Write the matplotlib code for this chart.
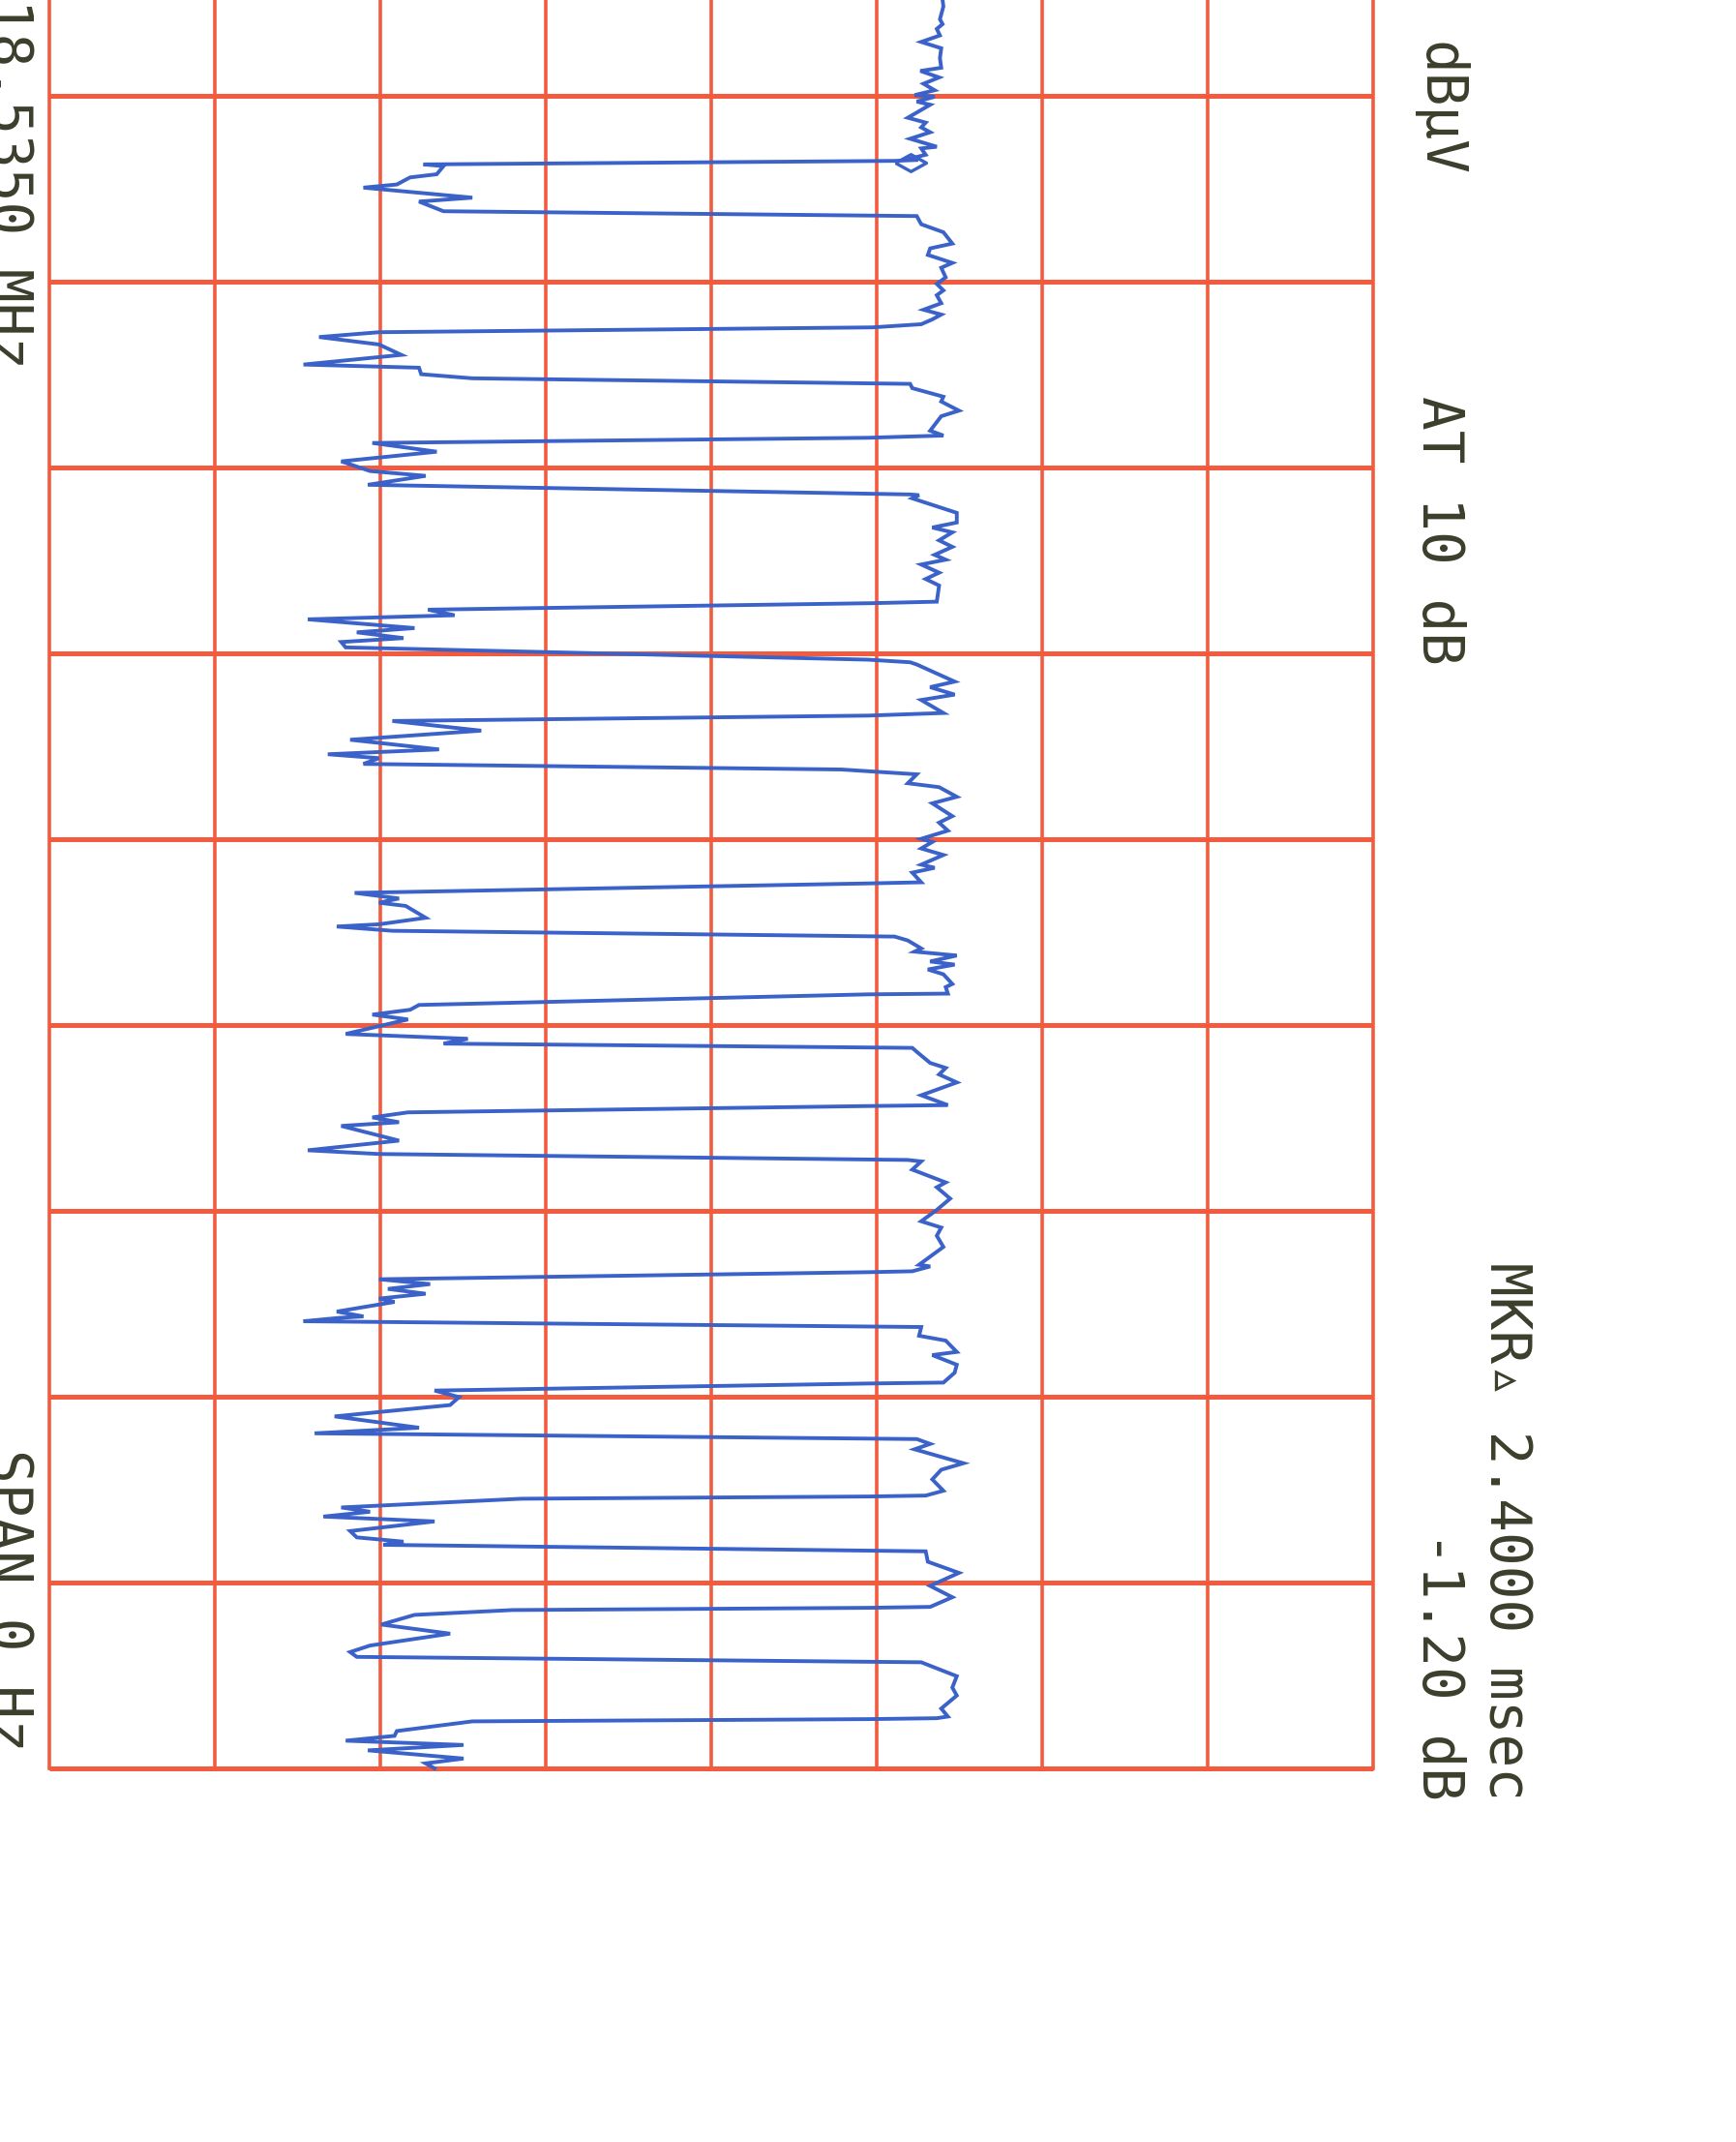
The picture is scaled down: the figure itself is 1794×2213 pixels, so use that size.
import matplotlib
matplotlib.use("Agg")
import matplotlib.pyplot as plt

# zero-span trace: time in divisions (0..10), level in divisions (0..8)
time_div = [
    0.484, 0.519, 0.588, 0.614, 0.640, 0.675, 0.710, 0.744, 0.797, 0.849,
    0.866, 0.901, 0.935, 0.970, 0.996, 1.005, 1.031, 1.048, 1.118, 1.144,
    1.170, 1.196, 1.231, 1.274, 1.283, 1.317, 1.335, 1.345, 1.350, 1.369,
    1.378, 1.422, 1.439, 1.477, 1.494, 1.548, 1.569, 1.621, 1.647, 1.691,
    1.734, 1.795, 1.821, 1.856, 1.899, 1.925, 1.977, 2.012, 2.047, 2.073,
    2.116, 2.151, 2.177, 2.203, 2.229, 2.246, 2.272, 2.298, 2.338, 2.394,
    2.446, 2.463, 2.498, 2.520, 2.550, 2.573, 2.619, 2.645, 2.694, 2.724,
    2.802, 2.828, 2.840, 2.868, 2.915, 2.967, 3.019, 3.045, 3.093, 3.145,
    3.149, 3.166, 3.244, 3.296, 3.323, 3.349, 3.392, 3.427, 3.470, 3.496,
    3.522, 3.566, 3.600, 3.635, 3.722, 3.730, 3.765, 3.795, 3.817, 3.864,
    3.887, 3.918, 3.939, 3.968, 4.034, 4.048, 4.060, 4.152, 4.182, 4.222,
    4.251, 4.321, 4.335, 4.364, 4.416, 4.465, 4.517, 4.543, 4.564, 4.595,
    4.625, 4.651, 4.699, 4.720, 4.772, 4.807, 4.876, 4.911, 4.954, 4.998,
    5.015, 5.050, 5.085, 5.137, 5.154, 5.180, 5.232, 5.238, 5.289, 5.319,
    5.342, 5.359, 5.423, 5.458, 5.470, 5.493, 5.524, 5.545, 5.588, 5.605,
    5.626, 5.658, 5.675, 5.701, 5.727, 5.779, 5.796, 5.831, 5.835, 5.892,
    5.918, 5.944, 5.970, 6.048, 6.074, 6.100, 6.123, 6.144, 6.204, 6.231,
    6.266, 6.309, 6.378, 6.431, 6.436, 6.470, 6.497, 6.523, 6.543, 6.622,
    6.674, 6.694, 6.726, 6.734, 6.778, 6.847, 6.873, 6.934, 6.995, 7.056,
    7.090, 7.134, 7.194, 7.290, 7.299, 7.325, 7.330, 7.368, 7.394, 7.420,
    7.446, 7.472, 7.490, 7.542, 7.568, 7.576, 7.594, 7.625, 7.672, 7.698,
    7.759, 7.776, 7.828, 7.871, 7.924, 7.929, 7.967, 8.002, 8.045, 8.106,
    8.167, 8.197, 8.228, 8.254, 8.283, 8.358, 8.393, 8.445, 8.506, 8.532,
    8.537, 8.549, 8.596, 8.619, 8.645, 8.671, 8.723, 8.757, 8.780, 8.797,
    8.832, 8.888, 8.948, 9.018, 9.079, 9.131, 9.136, 9.148, 9.174, 9.226,
    9.275, 9.339, 9.374, 9.400, 9.429, 9.504, 9.565, 9.608, 9.678, 9.721,
    9.730, 9.735, 9.747, 9.799, 9.825, 9.851, 9.874, 9.903, 9.947, 9.973,
    10.0,
]
level_div = [
    5.398, 5.403, 5.382, 5.398, 5.363, 5.382, 5.269, 5.390, 5.382, 5.390,
    5.264, 5.377, 5.283, 5.350, 5.229, 5.350, 5.242, 5.323, 5.188, 5.296,
    5.269, 5.323, 5.202, 5.363, 5.269, 5.296, 5.215, 5.250, 5.108, 2.261,
    2.382, 2.341, 2.180, 2.100, 1.898, 2.556, 2.234, 2.382, 5.242, 5.269,
    5.403, 5.457, 5.323, 5.309, 5.457, 5.390, 5.417, 5.363, 5.403, 5.363,
    5.390, 5.283, 5.390, 5.336, 5.269, 4.974, 1.992, 1.630, 1.992, 2.127,
    1.536, 2.234, 2.247, 2.556, 5.202, 5.215, 5.403, 5.390, 5.497, 5.390,
    5.323, 5.403, 4.947, 1.952, 2.341, 1.764, 1.938, 2.274, 1.925, 5.202,
    5.256, 5.215, 5.484, 5.484, 5.336, 5.457, 5.377, 5.457, 5.350, 5.417,
    5.269, 5.377, 5.296, 5.377, 5.363, 4.974, 2.288, 2.449, 1.562, 2.207,
    1.858, 2.140, 1.764, 1.791, 4.947, 5.202, 5.242, 5.471, 5.323, 5.471,
    5.269, 5.403, 4.947, 2.073, 2.610, 1.818, 2.355, 1.683, 1.992, 1.898,
    4.786, 5.242, 5.188, 5.377, 5.484, 5.336, 5.457, 5.377, 5.430, 5.269,
    5.336, 5.269, 5.403, 5.269, 5.350, 5.215, 5.269, 4.947, 1.845, 2.113,
    1.992, 2.153, 2.274, 1.992, 1.737, 2.073, 5.108, 5.188, 5.269, 5.229,
    5.484, 5.323, 5.471, 5.309, 5.403, 5.457, 5.417, 5.430, 4.947, 2.234,
    2.180, 1.952, 2.167, 1.791, 2.529, 2.382, 5.215, 5.242, 5.323, 5.417,
    5.377, 5.484, 5.269, 5.430, 4.947, 2.167, 1.952, 2.113, 1.764, 2.113,
    1.562, 1.992, 5.188, 5.269, 5.215, 5.417, 5.363, 5.444, 5.363, 5.269,
    5.390, 5.363, 5.403, 5.256, 5.323, 5.215, 4.947, 1.992, 2.301, 2.046,
    2.274, 1.992, 2.086, 1.737, 1.898, 1.750, 1.536, 5.269, 5.256, 5.417,
    5.484, 5.336, 5.484, 5.471, 5.403, 4.947, 2.328, 2.476, 2.422, 1.724,
    2.234, 1.603, 5.242, 5.323, 5.229, 5.524, 5.390, 5.336, 5.403, 5.296,
    4.947, 2.852, 1.764, 1.938, 1.656, 2.328, 1.818, 1.858, 2.140, 2.019,
    5.296, 5.309, 5.497, 5.323, 5.457, 5.323, 4.947, 2.798, 2.207, 2.006,
    2.422, 1.938, 1.818, 1.858, 5.269, 5.484, 5.457, 5.484, 5.390, 5.430,
    5.363, 4.947, 2.556, 2.100, 2.086, 1.791, 2.503, 1.925, 2.503, 2.274,
    2.328,
]
marker_time = [1.361]
marker_level = [5.202]

n_level_div = 8
n_time_div = 10
header_left = "dB\u00b5V"
header_atten = "AT 10 dB"
marker_text = "MKR\u25b5 2.4000 msec"
marker_delta = "-1.20 dB"
center_text = "18.5350 MHz"
span_text = "SPAN 0 Hz"

W, H = 1794, 2213
grid_red = "#f35a3e"
trace_blue = "#3a62c9"
ink = "#3c3e2c"

fig = plt.figure(figsize=(W / 100, H / 100), dpi=100)
fig.patch.set_facecolor("white")

# graticule: 8 level divisions across, 10 time divisions down (page turned 90 deg)
ax = fig.add_axes([51 / W, (H - 1827) / H, 1368 / W, 1920 / H])
ax.set_xlim(0, n_level_div)
ax.set_ylim(n_time_div, 0)
ax.axis("off")

for i in range(n_level_div + 1):
    ax.axvline(i, color=grid_red, lw=2.6, zorder=1, clip_on=False)
for j in range(1, n_time_div + 1):
    ax.plot([0, n_level_div], [j, j], color=grid_red, lw=3.6, zorder=1,
            solid_capstyle="butt", clip_on=False)

ax.plot(level_div, time_div, color=trace_blue, lw=2.8, zorder=3,
        solid_joinstyle="miter", clip_on=False)
diamond = [(-1, 0), (0, 0.55), (1, 0), (0, -0.55), (-1, 0)]
ax.plot(marker_level, marker_time, ls="none", marker=diamond, ms=23,
        mfc="none", mec=trace_blue, mew=2.4, zorder=4)

fonts = ["DejaVu Sans Mono", "DejaVu Sans"]


def vtext(x, y, s, ha):
    fig.text(x / W, 1 - y / H, s, rotation=270, rotation_mode="anchor",
             ha=ha, va="baseline", fontsize=41.5, family=fonts, color=ink)


vtext(1470, 43, header_left, "left")
vtext(1470, 409, header_atten, "left")
vtext(1540, 1860, marker_text, "right")
vtext(1470, 1860, marker_delta, "right")
# the two left-hand labels are clipped by the page edge in the reference scan
vtext(-9, 381, center_text, "right")
vtext(-9, 1810, span_text, "right")

fig.savefig("out.png", dpi=100, facecolor="white")
